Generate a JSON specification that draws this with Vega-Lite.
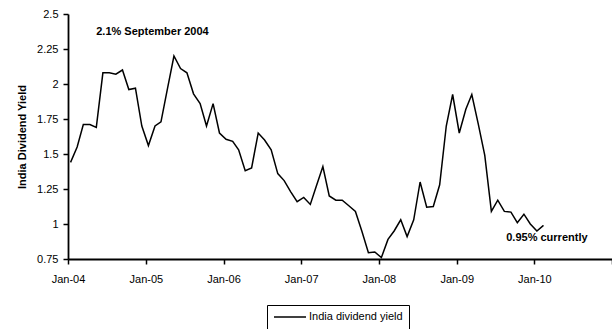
{
  "$schema": "https://vega.github.io/schema/vega-lite/v6.json",
  "width": 544,
  "height": 245,
  "autosize": {"type": "none"},
  "padding": {"left": 68, "top": 14, "right": 0, "bottom": 70},
  "background": "white",
  "config": {
    "view": {"stroke": null},
    "font": "Liberation Sans",
    "axis": {
      "domainColor": "#000000",
      "domainWidth": 1.8,
      "tickColor": "#000000",
      "tickWidth": 1.5,
      "tickSize": 5,
      "grid": false,
      "labelColor": "#000000",
      "labelFont": "Liberation Sans",
      "labelFontSize": 11,
      "labelOverlap": false,
      "titleColor": "#000000",
      "titleFont": "Liberation Sans",
      "titleFontSize": 11,
      "titleFontWeight": "bold"
    },
    "legend": {
      "labelFont": "Liberation Sans",
      "labelFontSize": 11,
      "labelColor": "#000000"
    }
  },
  "datasets": {
    "yield": [
      {"date": "2004-01-13", "value": 1.44}, {"date": "2004-02-13", "value": 1.55}, {"date": "2004-03-13", "value": 1.71},
      {"date": "2004-04-13", "value": 1.71}, {"date": "2004-05-13", "value": 1.69}, {"date": "2004-06-13", "value": 2.08},
      {"date": "2004-07-13", "value": 2.08}, {"date": "2004-08-13", "value": 2.07}, {"date": "2004-09-13", "value": 2.10},
      {"date": "2004-10-13", "value": 1.96}, {"date": "2004-11-13", "value": 1.97}, {"date": "2004-12-13", "value": 1.70},
      {"date": "2005-01-13", "value": 1.56}, {"date": "2005-02-13", "value": 1.70}, {"date": "2005-03-13", "value": 1.73},
      {"date": "2005-04-13", "value": 1.97}, {"date": "2005-05-13", "value": 2.20}, {"date": "2005-06-13", "value": 2.11},
      {"date": "2005-07-13", "value": 2.08}, {"date": "2005-08-13", "value": 1.93}, {"date": "2005-09-13", "value": 1.86},
      {"date": "2005-10-13", "value": 1.70}, {"date": "2005-11-13", "value": 1.86}, {"date": "2005-12-13", "value": 1.65},
      {"date": "2006-01-13", "value": 1.605}, {"date": "2006-02-13", "value": 1.59}, {"date": "2006-03-13", "value": 1.53},
      {"date": "2006-04-13", "value": 1.38}, {"date": "2006-05-13", "value": 1.40}, {"date": "2006-06-13", "value": 1.65},
      {"date": "2006-07-13", "value": 1.60}, {"date": "2006-08-13", "value": 1.53}, {"date": "2006-09-13", "value": 1.36},
      {"date": "2006-10-13", "value": 1.31}, {"date": "2006-11-13", "value": 1.23}, {"date": "2006-12-13", "value": 1.16},
      {"date": "2007-01-13", "value": 1.19}, {"date": "2007-02-13", "value": 1.14}, {"date": "2007-03-13", "value": 1.27},
      {"date": "2007-04-13", "value": 1.41}, {"date": "2007-05-13", "value": 1.20}, {"date": "2007-06-13", "value": 1.17},
      {"date": "2007-07-13", "value": 1.17}, {"date": "2007-08-13", "value": 1.13}, {"date": "2007-09-13", "value": 1.09},
      {"date": "2007-10-13", "value": 0.95}, {"date": "2007-11-13", "value": 0.795}, {"date": "2007-12-13", "value": 0.80},
      {"date": "2008-01-13", "value": 0.76}, {"date": "2008-02-13", "value": 0.89}, {"date": "2008-03-13", "value": 0.95},
      {"date": "2008-04-13", "value": 1.03}, {"date": "2008-05-13", "value": 0.91}, {"date": "2008-06-13", "value": 1.03},
      {"date": "2008-07-13", "value": 1.30}, {"date": "2008-08-13", "value": 1.12}, {"date": "2008-09-13", "value": 1.125},
      {"date": "2008-10-13", "value": 1.28}, {"date": "2008-11-13", "value": 1.70}, {"date": "2008-12-13", "value": 1.925},
      {"date": "2009-01-13", "value": 1.65}, {"date": "2009-02-13", "value": 1.82}, {"date": "2009-03-13", "value": 1.925},
      {"date": "2009-04-13", "value": 1.71}, {"date": "2009-05-13", "value": 1.49}, {"date": "2009-06-13", "value": 1.09},
      {"date": "2009-07-13", "value": 1.17}, {"date": "2009-08-13", "value": 1.09}, {"date": "2009-09-13", "value": 1.085},
      {"date": "2009-10-13", "value": 1.01}, {"date": "2009-11-13", "value": 1.07}, {"date": "2009-12-13", "value": 1.00},
      {"date": "2010-01-13", "value": 0.95}, {"date": "2010-02-13", "value": 0.99}
    ]
  },
  "encoding": {
    "x": {
      "field": "date",
      "type": "temporal",
      "scale": {
        "type": "utc",
        "domain": [
          {"year": 2004, "month": 1, "date": 1, "utc": true},
          {"year": 2011, "month": 1, "date": 1, "utc": true}
        ]
      },
      "axis": {
        "title": null,
        "values": [
          {"year": 2004, "month": 1, "date": 1, "utc": true},
          {"year": 2005, "month": 1, "date": 1, "utc": true},
          {"year": 2006, "month": 1, "date": 1, "utc": true},
          {"year": 2007, "month": 1, "date": 1, "utc": true},
          {"year": 2008, "month": 1, "date": 1, "utc": true},
          {"year": 2009, "month": 1, "date": 1, "utc": true},
          {"year": 2010, "month": 1, "date": 1, "utc": true},
          {"year": 2011, "month": 1, "date": 1, "utc": true}
        ],
        "labelExpr": "utcyear(datum.value) >= 2011 ? '' : utcFormat(datum.value, '%b-%y')",
        "labelPadding": 9,
        "labelFlush": false,
        "labelOverlap": false
      }
    },
    "y": {
      "field": "value",
      "type": "quantitative",
      "scale": {"domain": [0.75, 2.5], "zero": false, "nice": false},
      "axis": {
        "title": "India Dividend Yield",
        "values": [0.75, 1, 1.25, 1.5, 1.75, 2, 2.25, 2.5],
        "labelExpr": "'' + datum.value",
        "labelOverlap": false,
        "labelPadding": 5,
        "titlePadding": 9
      }
    }
  },
  "layer": [
    {
      "data": {"name": "yield"},
      "mark": {"type": "line", "strokeWidth": 1.5, "interpolate": "linear"},
      "encoding": {
        "color": {
          "datum": "India dividend yield",
          "type": "nominal",
          "scale": {"range": ["#000000"]},
          "legend": {
            "title": null,
            "orient": "none",
            "legendX": 199,
            "legendY": 291,
            "strokeColor": "#000000",
            "fillColor": "#ffffff",
            "padding": 6,
            "symbolType": "stroke",
            "symbolSize": 1024,
            "clipHeight": 12,
            "symbolStrokeWidth": 1.5,
            "symbolStrokeColor": "#000000",
            "labelOffset": 2
          }
        }
      }
    },
    {
      "data": {"values": [{"date": "2004-09-13", "value": 2.1, "note": "2.1% September 2004"}]},
      "mark": {"type": "text", "fontWeight": "bold", "fontSize": 11, "color": "#000000", "align": "center", "baseline": "middle", "dx": 30, "dy": -38},
      "encoding": {
        "text": {"field": "note"}
      }
    },
    {
      "data": {"values": [{"date": "2010-01-13", "value": 0.95, "note": "0.95% currently"}]},
      "mark": {"type": "text", "fontWeight": "bold", "fontSize": 11, "color": "#000000", "align": "center", "baseline": "middle", "dx": 10, "dy": 7},
      "encoding": {
        "text": {"field": "note"}
      }
    }
  ]
}
